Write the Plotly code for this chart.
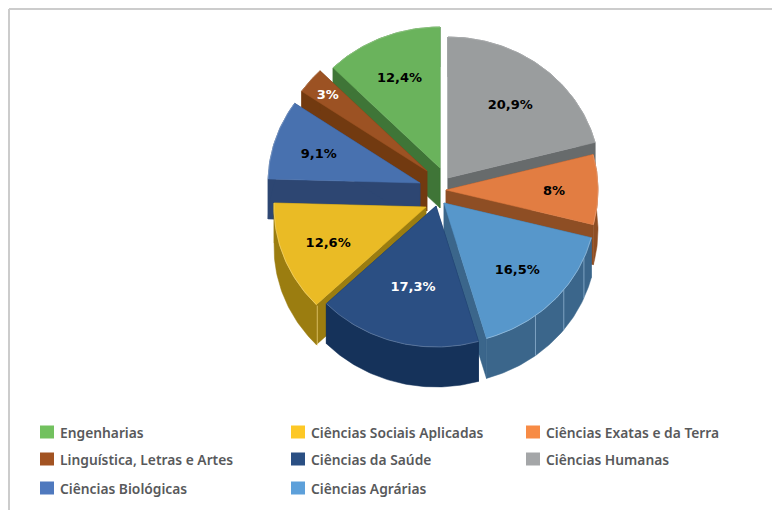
import math
import plotly.graph_objects as go

# --- data, clockwise from twelve o'clock ---
categories = ["Ciências Humanas", "Ciências Exatas e da Terra", "Ciências Agrárias", "Ciências da Saúde",
              "Ciências Sociais Aplicadas", "Ciências Biológicas", "Linguística, Letras e Artes", "Engenharias"]
values = [20.9, 8, 16.5, 17.3, 12.6, 9.1, 3, 12.4]

# --- legend reading order ---
legend_order = ["Engenharias", "Ciências Sociais Aplicadas", "Ciências Exatas e da Terra",
                "Linguística, Letras e Artes", "Ciências da Saúde", "Ciências Humanas",
                "Ciências Biológicas", "Ciências Agrárias"]

# --- styles ---
top_colors = ["#9A9D9E", "#E27D42", "#5797CB", "#2B4F83", "#EABB25", "#4871AF", "#9C5223", "#6AB35C"]
wall_colors = ["#676B6C", "#8E4E24", "#3B668B", "#15325A", "#9B7D10", "#2D4672", "#723A10", "#3F7537"]
edge_colors = ["#B5B7B8", "#EFA57C", "#A9CBE6", "#6F86A8", "#F3D67E", "#8FA9D0", "#C08A66", "#9FD094"]
legend_colors = ["#72C15F", "#FDC826", "#F78B45", "#A25322", "#2A4F83", "#A4A6A8", "#4F79BE", "#5DA0DA"]
label_colors = ["black", "black", "black", "white", "black", "black", "white", "black"]

# --- layout of the exploded pie ---
apex_x = [448, 446, 444, 436, 426, 420, 427, 440]
apex_y = [178, 190, 203, 206, 207, 183, 171, 168]
label_radius = [0.67, 0.71, 0.67, 0.585, 0.69, 0.70, 0.85, 0.70]
LABEL_DY = 2
RX, RY, DEPTH = 152, 141, 40
draw_order = [7, 0, 6, 5, 1, 4, 2, 3]
facets = {2: [113, 128, 143], 4: [225.6]}
legend_col_x = [40, 291, 526]
legend_row_y = [432, 459, 488]

total = sum(values)
bounds = [0.0]
for v in values:
    bounds.append(bounds[-1] + v / total * 360)


def rim(i, a):
    t = math.radians(a)
    return apex_x[i] + RX * math.sin(t), apex_y[i] - RY * math.cos(t)


def arc(i, a0, a1):
    n = max(2, int(abs(a1 - a0)) + 1)
    return [rim(i, a0 + (a1 - a0) * k / (n - 1)) for k in range(n)]


def poly(points, color, line=None, width=0):
    xs = [p[0] for p in points] + [points[0][0]]
    ys = [p[1] for p in points] + [points[0][1]]
    return go.Scatter(x=xs, y=ys, mode="lines", fill="toself", fillcolor=color,
                      line=dict(color=line or color, width=width), hoverinfo="skip", showlegend=False)


fig = go.Figure()
for i in draw_order:
    a0, a1 = bounds[i], bounds[i + 1]
    apex = (apex_x[i], apex_y[i])
    low = lambda p: (p[0], p[1] + DEPTH)
    outer = arc(i, a0, a1)
    # walls: radial faces then rim
    for p in (outer[0], outer[-1]):
        fig.add_trace(poly([apex, p, low(p), low(apex)], wall_colors[i], width=0.5))
    fig.add_trace(poly(outer + [low(p) for p in reversed(outer)], wall_colors[i], width=0.5))
    for f in facets.get(i, []):
        p = rim(i, f)
        fig.add_trace(go.Scatter(x=[p[0], p[0]], y=[p[1], p[1] + DEPTH], mode="lines",
                                 line=dict(color=edge_colors[i], width=0.6), hoverinfo="skip", showlegend=False))
    # top
    fig.add_trace(poly([apex] + outer, top_colors[i], width=0.5))
    fig.add_trace(go.Scatter(x=[p[0] for p in outer], y=[p[1] for p in outer], mode="lines",
                             line=dict(color=edge_colors[i], width=0.6), hoverinfo="skip", showlegend=False))

for i in draw_order:
    mid = (bounds[i] + bounds[i + 1]) / 2
    t = math.radians(mid)
    fig.add_trace(go.Scatter(
        x=[apex_x[i] + RX * label_radius[i] * math.sin(t)],
        y=[apex_y[i] - RY * label_radius[i] * math.cos(t) + LABEL_DY],
        mode="text", text=[f"{values[i]:g}".replace(".", ",") + "%"], textposition="middle center",
        textfont=dict(family="DejaVu Sans", size=13, color=label_colors[i], weight="bold"),
        hoverinfo="skip", showlegend=False))

shapes = [
    dict(type="line", x0=9, x1=772, y0=9, y1=9, line=dict(color="#CCCCCC", width=2)),
    dict(type="line", x0=9, x1=9, y0=9, y1=510, line=dict(color="#CCCCCC", width=2)),
]
annotations = []
for k, name in enumerate(legend_order):
    x = legend_col_x[k % 3]
    y = legend_row_y[k // 3]
    shapes.append(dict(type="rect", x0=x, x1=x + 14, y0=y - 6.5, y1=y + 6.5,
                       fillcolor=legend_colors[k], line=dict(width=0)))
    annotations.append(dict(x=x + 18, y=y, text=name, showarrow=False, xanchor="left", yanchor="middle",
                            font=dict(family="Noto Sans", size=13.8, color="#58595B", weight=600)))

fig.update_layout(
    width=772, height=510, margin=dict(l=0, r=0, t=0, b=0), showlegend=False,
    paper_bgcolor="white", plot_bgcolor="white", shapes=shapes, annotations=annotations,
    xaxis=dict(range=[0, 772], visible=False, fixedrange=True),
    yaxis=dict(range=[510, 0], visible=False, fixedrange=True),
)
fig.write_html("out.html", post_script="document.body.style.margin='0';document.body.style.overflow='hidden';",
               config={"displayModeBar": False})
